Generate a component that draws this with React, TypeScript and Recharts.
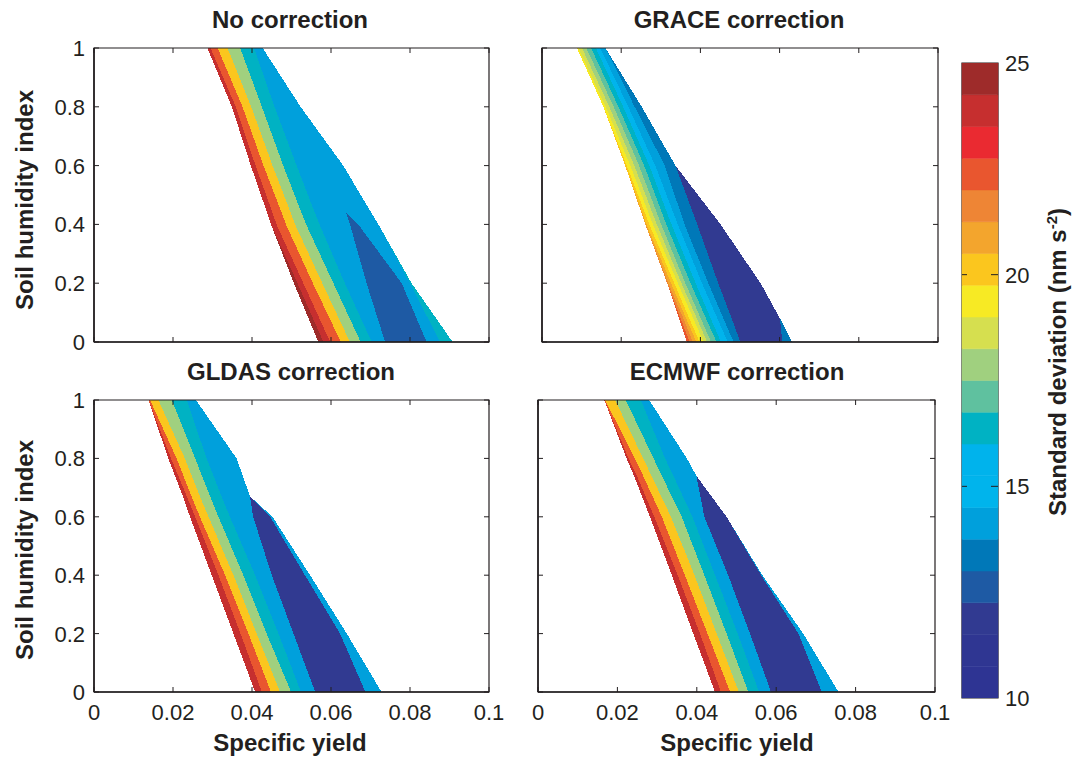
import React from "react";
import { ComposedChart, Area, XAxis, YAxis, ReferenceArea, BarChart, Bar } from "recharts";

const INK = "#231f20";
const FONT = "'Liberation Sans', Arial, Helvetica, sans-serif";

// colour bar: 20 steps from 10 to 25 nm s-2
const cbLevels = [10, 10.75, 11.5, 12.25, 13, 13.75, 14.5, 15.25, 16, 16.75, 17.5, 18.25, 19, 19.75, 20.5, 21.25, 22, 22.75, 23.5, 24.25, 25];
const cbColors = [
  "#2e3493", "#2f3692", "#313a91", "#1e5aa4", "#0078b8",
  "#00a0dc", "#00b4ec", "#00b3ec", "#00b2c3", "#5fc19f",
  "#a0d07f", "#d6df4f", "#f7ea24", "#fbc61e", "#f3a52d",
  "#ee8535", "#e9562f", "#ea2a31", "#c62f2f", "#9e2b2a",
];
const cbTicks = [10, 15, 20, 25];

const xTicks = [0, 0.02, 0.04, 0.06, 0.08, 0.1];
const yTicks = [0, 0.2, 0.4, 0.6, 0.8, 1];

// each panel: soil humidity levels, then the x (specific yield) of every contour edge at those levels,
// and the colour step filling the band right of each edge

// No correction
const noLevels = [0, 0.2, 0.4, 0.44, 0.6, 0.8, 1];
const noEdges = [
  [0.0568, 0.0506, 0.0448, 0.0438, 0.0397, 0.0349, 0.0287],
  [0.0581, 0.0515, 0.0448, 0.0438, 0.0397, 0.0349, 0.0287],
  [0.0598, 0.053, 0.0462, 0.0452, 0.0409, 0.0359, 0.0295],
  [0.0625, 0.0554, 0.0486, 0.0475, 0.0429, 0.0376, 0.0313],
  [0.0648, 0.0578, 0.0509, 0.0498, 0.0452, 0.0398, 0.0338],
  [0.0675, 0.0606, 0.0537, 0.0525, 0.0479, 0.0425, 0.037],
  [0.0703, 0.0635, 0.0571, 0.0559, 0.0513, 0.0457, 0.0405],
  [0.0737, 0.069, 0.0648, 0.0638, 0.0631, 0.0523, 0.0427],
  [0.0842, 0.0779, 0.0669, 0.0638, 0.0631, 0.0523, 0.0427],
  [0.0876, 0.08, 0.072, 0.0702, 0.0631, 0.0523, 0.0427],
  [0.0908, 0.0804, 0.072, 0.0702, 0.0631, 0.0523, 0.0427],
];
const noSteps = [19, 18, 16, 13, 10, 8, 5, 3, 5, 8];

// GRACE correction
const graceLevels = [0, 0.08, 0.2, 0.4, 0.6, 0.8, 1];
const graceEdges = [
  [0.0366, 0.0346, 0.0316, 0.0261, 0.021, 0.0155, 0.0088],
  [0.0373, 0.035, 0.0316, 0.0261, 0.021, 0.0155, 0.0088],
  [0.0381, 0.0357, 0.0319, 0.0261, 0.021, 0.0155, 0.0088],
  [0.039, 0.0364, 0.0326, 0.0264, 0.021, 0.0155, 0.0088],
  [0.0398, 0.0372, 0.0334, 0.0271, 0.0214, 0.0155, 0.0088],
  [0.0408, 0.0382, 0.0343, 0.028, 0.0223, 0.0161, 0.0092],
  [0.0417, 0.0391, 0.0352, 0.029, 0.0233, 0.017, 0.0101],
  [0.0427, 0.0401, 0.0362, 0.0301, 0.0245, 0.0181, 0.0112],
  [0.0441, 0.0414, 0.0375, 0.0314, 0.0258, 0.0193, 0.0124],
  [0.0452, 0.0426, 0.0388, 0.0327, 0.0271, 0.0205, 0.0136],
  [0.0469, 0.0443, 0.0404, 0.0343, 0.0286, 0.0218, 0.0147],
  [0.0484, 0.0458, 0.042, 0.036, 0.031, 0.0234, 0.016],
  [0.0501, 0.0479, 0.0445, 0.0392, 0.0337, 0.0252, 0.016],
  [0.0607, 0.0601, 0.0552, 0.0451, 0.0337, 0.0252, 0.016],
  [0.0632, 0.0601, 0.0552, 0.0451, 0.0337, 0.0252, 0.016],
];
const graceSteps = [16, 15, 14, 13, 12, 11, 10, 9, 8, 6, 5, 4, 2, 4];

// GLDAS correction
const gldasLevels = [0, 0.2, 0.4, 0.6, 0.67, 0.8, 1];
const gldasEdges = [
  [0.0408, 0.0353, 0.0298, 0.0243, 0.0225, 0.0188, 0.0138],
  [0.0425, 0.0371, 0.0315, 0.0256, 0.0235, 0.0195, 0.0138],
  [0.0448, 0.0391, 0.0332, 0.0268, 0.0247, 0.0209, 0.0142],
  [0.0471, 0.0412, 0.0353, 0.029, 0.0268, 0.023, 0.0163],
  [0.0499, 0.0437, 0.0378, 0.0315, 0.0294, 0.0256, 0.0197],
  [0.0524, 0.0467, 0.0408, 0.0344, 0.0323, 0.0285, 0.0235],
  [0.056, 0.0505, 0.045, 0.0403, 0.0395, 0.0361, 0.0258],
  [0.0687, 0.0623, 0.0534, 0.0446, 0.0395, 0.0361, 0.0258],
  [0.0728, 0.064, 0.0547, 0.0452, 0.0395, 0.0361, 0.0258],
];
const gldasSteps = [18, 16, 13, 10, 8, 5, 2, 5];

// ECMWF correction
const ecmwfLevels = [0, 0.2, 0.4, 0.6, 0.74, 0.8, 1];
const ecmwfEdges = [
  [0.0446, 0.0391, 0.0337, 0.0282, 0.0242, 0.0223, 0.0167],
  [0.0461, 0.0408, 0.0352, 0.0293, 0.0249, 0.0228, 0.0167],
  [0.0484, 0.0427, 0.037, 0.0312, 0.0265, 0.0244, 0.0169],
  [0.0506, 0.045, 0.0394, 0.0335, 0.0286, 0.0265, 0.0194],
  [0.053, 0.0475, 0.0419, 0.0362, 0.0312, 0.0291, 0.0221],
  [0.0557, 0.0503, 0.0446, 0.0389, 0.0341, 0.032, 0.0259],
  [0.0587, 0.0534, 0.0479, 0.0419, 0.0399, 0.0375, 0.028],
  [0.0715, 0.0656, 0.0562, 0.0475, 0.0399, 0.0375, 0.028],
  [0.0757, 0.0668, 0.0565, 0.0475, 0.0399, 0.0375, 0.028],
];
const ecmwfSteps = [18, 16, 13, 10, 8, 5, 2, 5];

interface PanelProps {
  levels: number[];
  edges: number[][];
  steps: number[];
  left: number;
  top: number;
  width: number;
  height: number;
  xLabels: boolean;
  yLabels: boolean;
}

function Panel({ levels, edges, steps, left, top, width, height, xLabels, yLabels }: PanelProps) {
  const last = edges.length - 1;
  // every band runs from its own edge to the outer edge; later bands paint over earlier ones
  const rows = levels.map((h, i) => {
    const row: Record<string, any> = { h };
    steps.forEach((_, k) => {
      row["band" + k] = [edges[k][i], edges[last][i]];
    });
    return row;
  });

  const XTick = (p: any) => (
    <g>
      <line x1={p.x} x2={p.x} y1={p.y} y2={p.y - 5} stroke={INK} strokeWidth={1} />
      <line x1={p.x} x2={p.x} y1={p.y - height} y2={p.y - height + 5} stroke={INK} strokeWidth={1} />
      {xLabels && (
        <text x={p.x} y={p.y + 28} textAnchor="middle" fontSize={22} fontFamily={FONT} fill={INK}>
          {String(p.payload.value)}
        </text>
      )}
    </g>
  );

  const YTick = (p: any) => (
    <g>
      <line x1={p.x} x2={p.x + 5} y1={p.y} y2={p.y} stroke={INK} strokeWidth={1} />
      <line x1={p.x + width} x2={p.x + width - 5} y1={p.y} y2={p.y} stroke={INK} strokeWidth={1} />
      {yLabels && (
        <text x={p.x - 9} y={p.y + 8} textAnchor="end" fontSize={22} fontFamily={FONT} fill={INK}>
          {String(p.payload.value)}
        </text>
      )}
    </g>
  );

  return (
    <div style={{ position: "absolute", left: left - 90, top: top - 40 }}>
      <ComposedChart
        layout="vertical"
        width={width + 125}
        height={height + 100}
        data={rows}
        margin={{ top: 40, left: 89, right: 35, bottom: 59 }}
      >
        <XAxis
          type="number"
          domain={[0, 0.1]}
          ticks={xTicks}
          interval={0}
          height={1}
          tickSize={0}
          tickMargin={0}
          tickLine={false}
          axisLine={{ stroke: INK, strokeWidth: 1.6 }}
          tick={XTick}
          allowDataOverflow
        />
        <YAxis
          type="number"
          dataKey="h"
          domain={[0, 1]}
          reversed
          ticks={yTicks}
          interval={0}
          width={1}
          tickSize={0}
          tickMargin={0}
          tickLine={false}
          axisLine={{ stroke: INK, strokeWidth: 1.6 }}
          tick={YTick}
          allowDataOverflow
        />
        {steps.map((s, k) => (
          <Area
            key={k}
            dataKey={"band" + k}
            type="linear"
            fill={cbColors[s]}
            fillOpacity={1}
            stroke="none"
            shapeRendering="crispEdges"
            dot={false}
            activeDot={false}
            isAnimationActive={false}
          />
        ))}
        <ReferenceArea x1={0} x2={0.1} y1={0} y2={1} fill="none" stroke={INK} strokeWidth={1.2} />
      </ComposedChart>
    </div>
  );
}

function ColorBar() {
  const row: Record<string, any> = { name: "sd", base: cbLevels[0] };
  cbColors.forEach((_, i) => {
    row["c" + i] = cbLevels[i + 1] - cbLevels[i];
  });
  const barW = 36;

  const CbTick = (p: any) => {
    const v = p.payload.value;
    const inner = v !== 10 && v !== 25;
    return (
      <g>
        {inner && <line x1={p.x} x2={p.x - 7} y1={p.y} y2={p.y} stroke={INK} strokeWidth={1} />}
        {inner && <line x1={p.x - barW} x2={p.x - barW + 5} y1={p.y} y2={p.y} stroke={INK} strokeWidth={1} />}
        <text x={p.x + 7} y={p.y + 8} textAnchor="start" fontSize={22} fontFamily={FONT} fill={INK}>
          {String(v)}
        </text>
      </g>
    );
  };

  return (
    <div style={{ position: "absolute", left: 950, top: 50 }}>
      <BarChart width={122} height={670} data={[row]} margin={{ top: 13, left: 12, right: 73, bottom: 22 }} barCategoryGap={0}>
        <XAxis dataKey="name" type="category" hide />
        <YAxis
          orientation="right"
          type="number"
          domain={[10, 25]}
          ticks={cbTicks}
          interval={0}
          width={1}
          tickSize={0}
          tickMargin={0}
          tickLine={false}
          axisLine={false}
          tick={CbTick}
          allowDataOverflow
        />
        <Bar dataKey="base" stackId="cb" fill="none" isAnimationActive={false} />
        {cbColors.map((c, i) => (
          <Bar key={i} dataKey={"c" + i} stackId="cb" fill={c} stroke={c} strokeWidth={0.5} isAnimationActive={false} />
        ))}
        <ReferenceArea y1={10} y2={25} fill="none" stroke={INK} strokeWidth={1.2} />
      </BarChart>
    </div>
  );
}

const titleStyle = { fontSize: 24, fontWeight: 700, fontFamily: FONT, fill: INK } as const;

export default function App() {
  return (
    <div style={{ position: "absolute", left: 0, top: 0, width: 1072, height: 757, background: "#fff", fontFamily: FONT }}>
      <Panel levels={noLevels} edges={noEdges} steps={noSteps} left={94} top={48} width={395} height={294} xLabels={false} yLabels />
      <Panel levels={graceLevels} edges={graceEdges} steps={graceSteps} left={542} top={48} width={396} height={294} xLabels={false} yLabels={false} />
      <Panel levels={gldasLevels} edges={gldasEdges} steps={gldasSteps} left={94} top={400} width={395} height={292} xLabels yLabels />
      <Panel levels={ecmwfLevels} edges={ecmwfEdges} steps={ecmwfSteps} left={538} top={400} width={397} height={292} xLabels yLabels={false} />
      <ColorBar />
      <svg width={1072} height={757} style={{ position: "absolute", left: 0, top: 0, pointerEvents: "none" }}>
        <text x={290} y={28} textAnchor="middle" {...titleStyle}>No correction</text>
        <text x={739} y={28} textAnchor="middle" {...titleStyle}>GRACE correction</text>
        <text x={291} y={380} textAnchor="middle" {...titleStyle}>GLDAS correction</text>
        <text x={737} y={380} textAnchor="middle" {...titleStyle}>ECMWF correction</text>
        <text x={290} y={751} textAnchor="middle" {...titleStyle}>Specific yield</text>
        <text x={737} y={751} textAnchor="middle" {...titleStyle}>Specific yield</text>
        <text transform="translate(33 200) rotate(-90)" textAnchor="middle" {...titleStyle}>Soil humidity index</text>
        <text transform="translate(33 550) rotate(-90)" textAnchor="middle" {...titleStyle}>Soil humidity index</text>
        <text transform="translate(1066 362) rotate(-90)" textAnchor="middle" {...titleStyle}>
          <tspan>Standard deviation (nm s</tspan>
          <tspan dy={-9} fontSize={15}>-2</tspan>
          <tspan dy={9}>)</tspan>
        </text>
      </svg>
    </div>
  );
}
